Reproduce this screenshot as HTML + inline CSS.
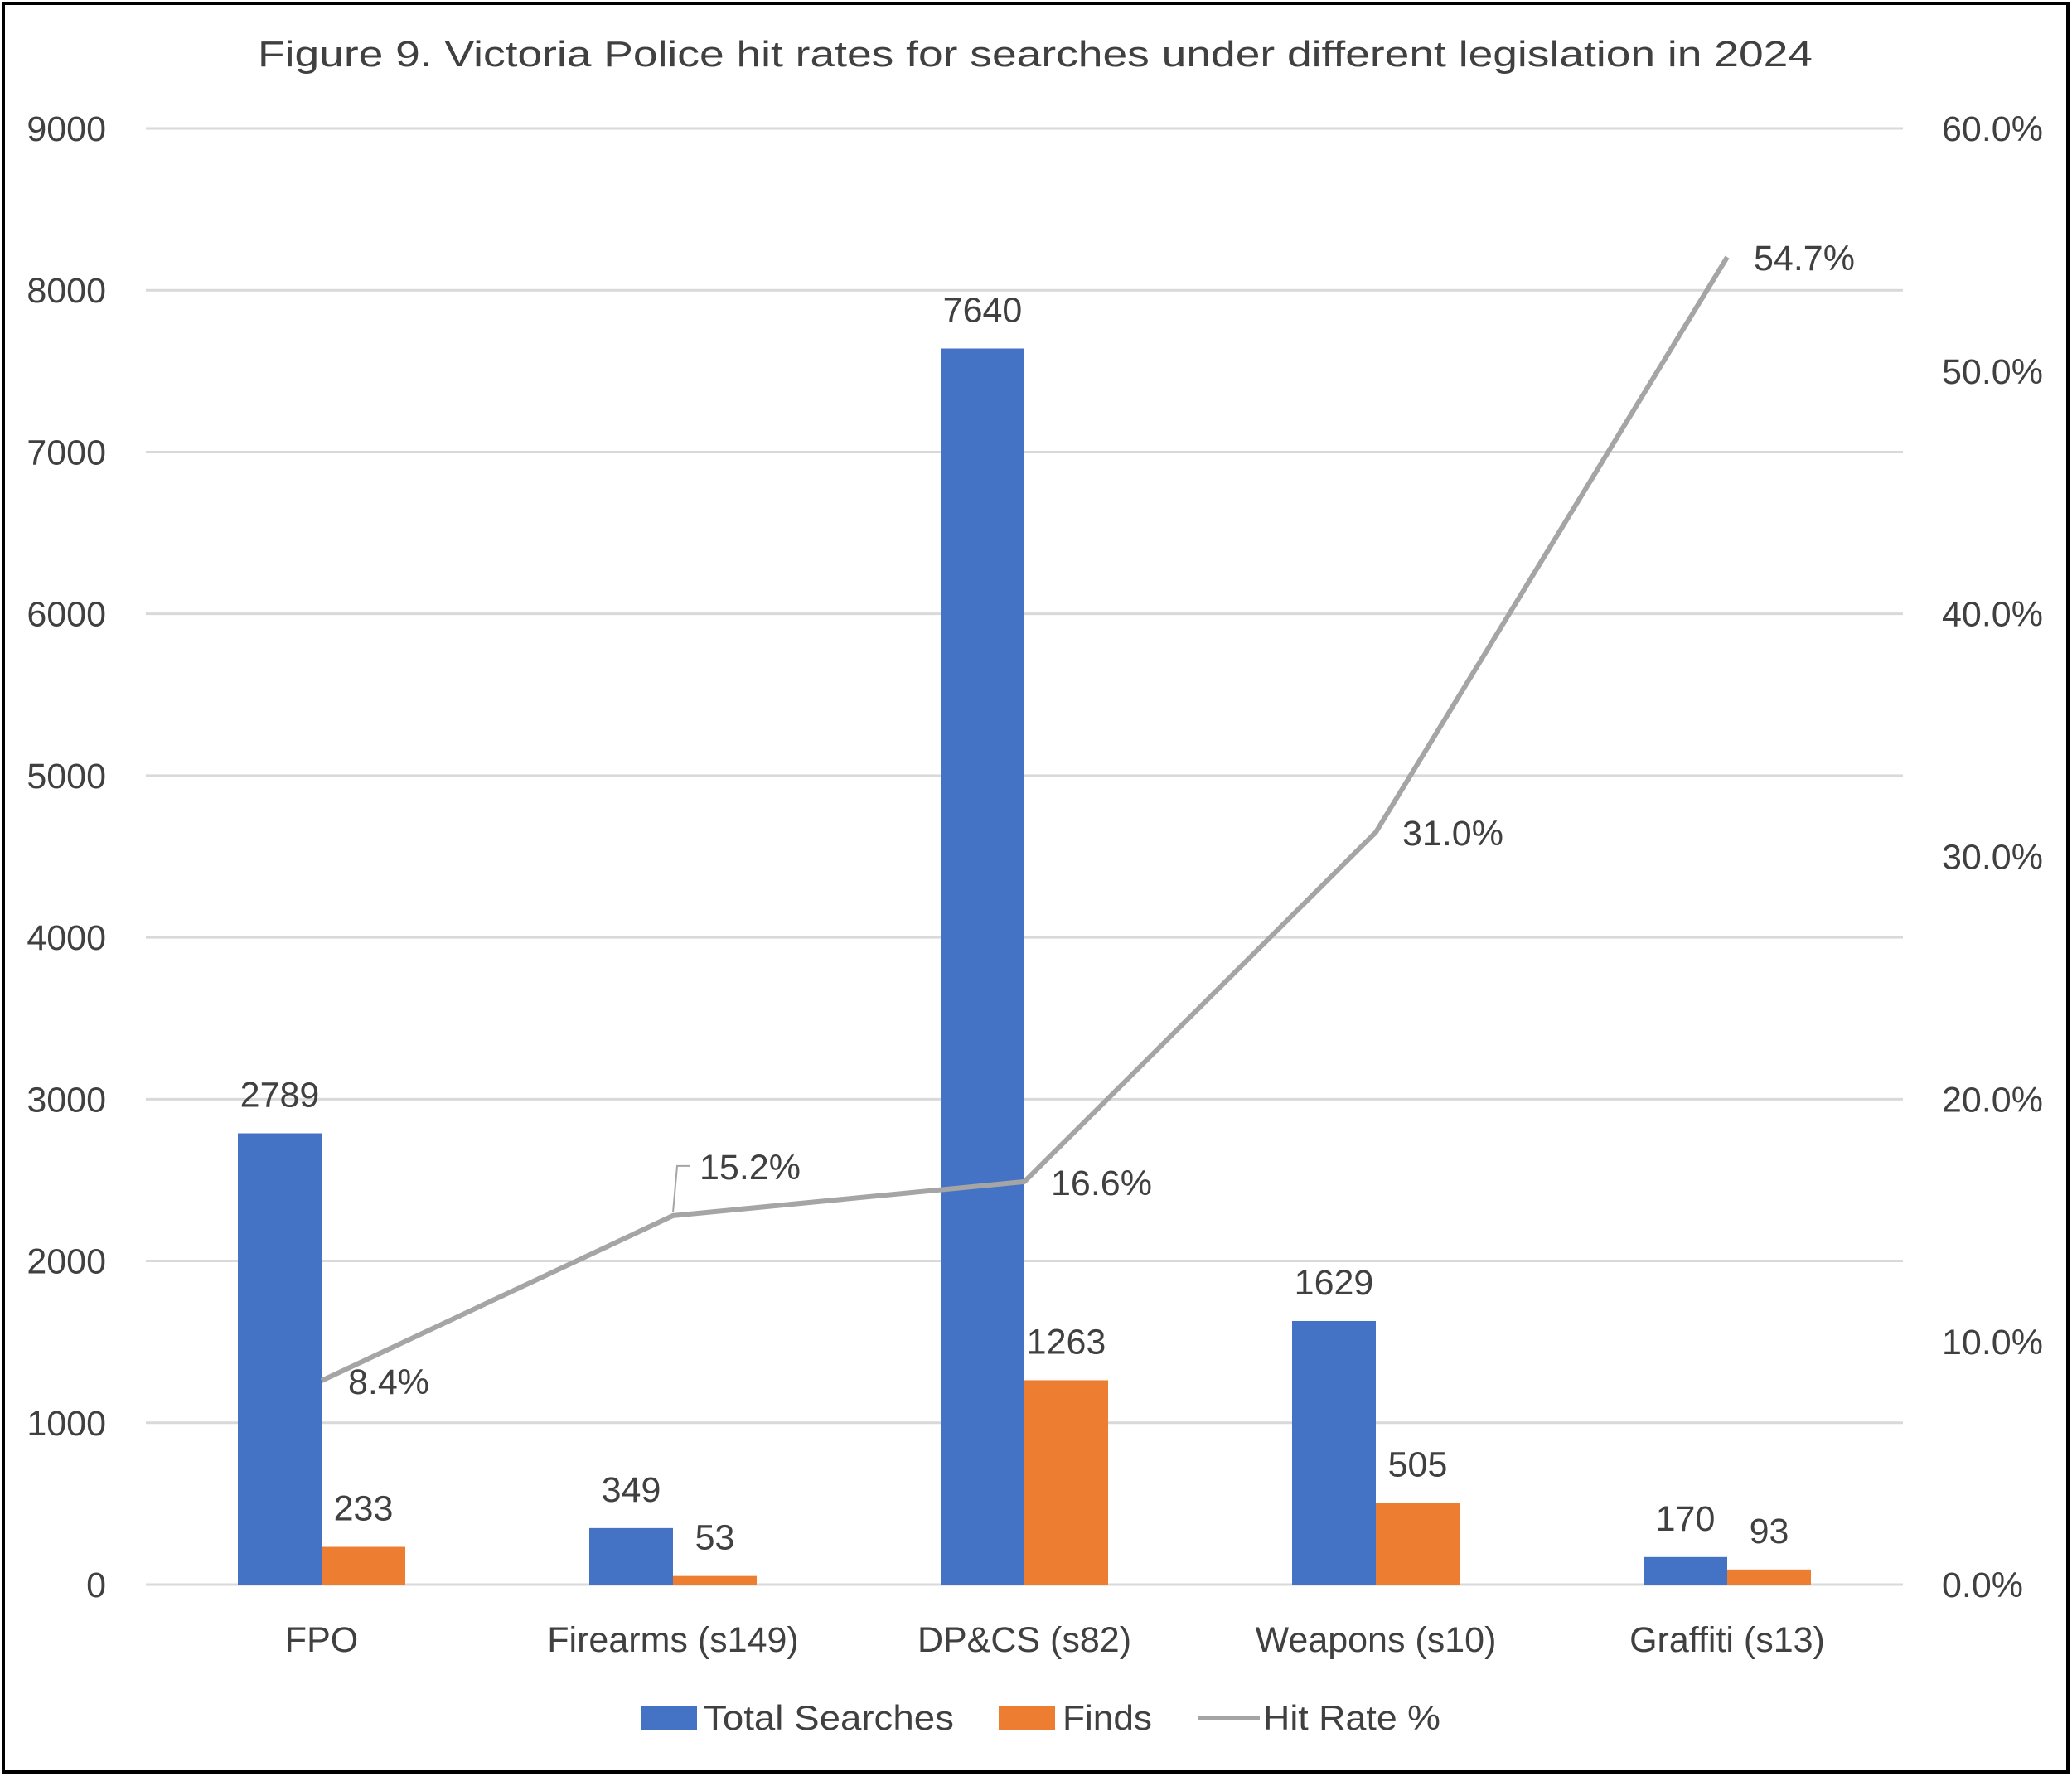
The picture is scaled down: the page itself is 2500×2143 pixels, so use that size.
<!DOCTYPE html>
<html><head><meta charset="utf-8"><style>
html,body{margin:0;padding:0;background:#fff}
svg{display:block}
text{font-family:"Liberation Sans",sans-serif;fill:#404040}
</style></head><body>
<svg id="chart" width="2500" height="2143" viewBox="0 0 2500 2143">
<rect x="4" y="4" width="2491" height="2134" fill="#fff" stroke="#000" stroke-width="4"/>
<text x="1249" y="80" font-size="44" text-anchor="middle" textLength="1876" lengthAdjust="spacingAndGlyphs">Figure 9. Victoria Police hit rates for searches under different legislation in 2024</text>
<g id="grid"></g><g id="bars"></g><g id="line"></g><g id="labels"></g>
<g>
<rect x="773" y="2059" width="68" height="29" fill="#4472C4"/>
<text x="849" y="2087" font-size="42" textLength="302" lengthAdjust="spacingAndGlyphs">Total Searches</text>
<rect x="1205" y="2059" width="68" height="29" fill="#ED7D31"/>
<text x="1282" y="2087" font-size="42" textLength="108" lengthAdjust="spacingAndGlyphs">Finds</text>
<line x1="1445" y1="2073" x2="1520" y2="2073" stroke="#A5A5A5" stroke-width="6"/>
<text x="1524" y="2087" font-size="42" textLength="214" lengthAdjust="spacingAndGlyphs">Hit Rate %</text>
</g>
</svg>
<script>
const categories = ["FPO","Firearms (s149)","DP&CS (s82)","Weapons (s10)","Graffiti (s13)"];
const totalSearches = [2789,349,7640,1629,170];
const finds = [233,53,1263,505,93];
const hitRate = [8.4,15.2,16.6,31.0,54.7];
const leftTicks = [0,1000,2000,3000,4000,5000,6000,7000,8000,9000];
const rightTicks = ["0.0%","10.0%","20.0%","30.0%","40.0%","50.0%","60.0%"];

const NS="http://www.w3.org/2000/svg";
const L=176,R=2296,T=155,B=1912;
const yL=v=>B-(v/9000)*(B-T);
const yR=v=>B-(v/60)*(B-T);
const cw=(R-L)/categories.length;
const xC=i=>L+cw*(i+0.5);
const bw=101;
function mk(tag,attrs,parent,txt){const e=document.createElementNS(NS,tag);for(const k in attrs)e.setAttribute(k,attrs[k]);if(txt!==undefined)e.textContent=txt;document.getElementById(parent).appendChild(e);return e;}

leftTicks.forEach(v=>{
  const g=mk("line",{x1:L,x2:R,y1:yL(v),y2:yL(v),stroke:"#D9D9D9","stroke-width":3},"grid");
  
  
  const t=mk("text",{x:128,y:yL(v)+15,"font-size":43,"text-anchor":"end"},"grid",String(v));
  
  
});
rightTicks.forEach((s,i)=>{
  const t=mk("text",{x:2343,y:yR(i*10)+15,"font-size":43},"grid",s);
  
  
});
categories.forEach((c,i)=>{
  const t=mk("text",{x:xC(i),y:1993,"font-size":43,"text-anchor":"middle"},"grid",c);
  
  
  const b1=mk("rect",{x:xC(i)-bw,y:yL(totalSearches[i]),width:bw,height:B-yL(totalSearches[i]),fill:"#4472C4"},"bars");
  
  
  const b2=mk("rect",{x:xC(i),y:yL(finds[i]),width:bw,height:B-yL(finds[i]),fill:"#ED7D31"},"bars");
  
  
  const l1=mk("text",{x:xC(i)-bw/2,y:yL(totalSearches[i])-32,"font-size":43,"text-anchor":"middle"},"labels",String(totalSearches[i]));
  
  
  const l2=mk("text",{x:xC(i)+bw/2,y:yL(finds[i])-32,"font-size":43,"text-anchor":"middle"},"labels",String(finds[i]));
  
  
});
const pts=hitRate.map((v,i)=>xC(i)+","+yR(v)).join(" ");
const pl=mk("polyline",{points:pts,fill:"none",stroke:"#A5A5A5","stroke-width":6,"stroke-linejoin":"round"},"line");


hitRate.forEach((v,i)=>{
  let x=xC(i)+32,y=yR(v)+16;
  if(i===1){
    y=yR(v)-44;x=xC(i)+32;
    const ld=mk("polyline",{points:`${xC(i)},${yR(v)-4} ${xC(i)+5},${yR(v)-60} ${xC(i)+20},${yR(v)-60}`,fill:"none",stroke:"#A5A5A5","stroke-width":2},"labels");
    
    
  }
  const t=mk("text",{x:x,y:y,"font-size":43},"labels",v.toFixed(1)+"%");
  
  
});
</script>
</body></html>
